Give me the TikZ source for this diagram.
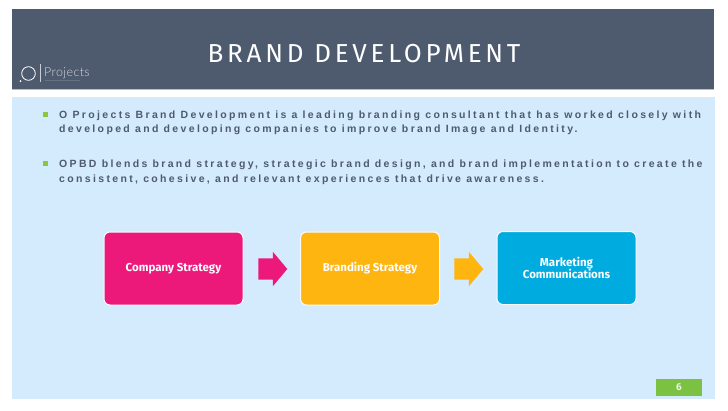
\documentclass[tikz,border=0pt]{standalone}
\usepackage{fontspec}
\setmainfont{Liberation Sans}
\newfontfamily\titlefont[LetterSpace=14.5]{Fira Sans}
\newfontfamily\bodyfont[LetterSpace=22.3]{Liberation Sans}
\newfontfamily\boxfont{Fira Sans}
\newfontfamily\logofont[LetterSpace=3]{Lato Light}
\usetikzlibrary{shapes.arrows}
\definecolor{header}{HTML}{4E5B6F}
\definecolor{headline}{HTML}{B9BEC6}
\definecolor{panel}{HTML}{D4EAFD}
\definecolor{bodytext}{HTML}{4E5B6F}
\definecolor{bulletgreen}{HTML}{8CC63F}
\definecolor{pagegreen}{HTML}{7CC242}
\definecolor{pink}{HTML}{EC197B}
\definecolor{amber}{HTML}{FFB50F}
\definecolor{sky}{HTML}{00ABDF}
\tikzset{
  x=1pt,y=-1pt,
  flowbox/.style={draw=white!85!panel,line width=1pt,rounded corners=6pt,minimum width=139pt,minimum height=73pt,inner sep=0pt,text=white!92!panel,align=center,font=\boxfont\bfseries\fontsize{11.5}{12}\selectfont},
  blockarrow/.style={single arrow,single arrow head extend=6.5pt,single arrow tip angle=100,minimum height=29pt,inner sep=0pt},
  bodyline/.style={anchor=base west,inner sep=0pt,text=bodytext,font=\bodyfont\bfseries\fontsize{10.5}{12}\selectfont},
  bulletmark/.style={fill=bulletgreen,minimum size=5pt,inner sep=0pt}
}
\begin{document}
\begin{tikzpicture}
\useasboundingbox (0,0) rectangle (728,410);
\fill[white] (0,0) rectangle (728,410);
\fill[panel] (12,97) rectangle (715,399);
\fill[header] (12,9) rectangle (714,89);
\fill[headline] (12,89) rectangle (714,90);
\node[anchor=base,inner sep=0pt,text=white,font=\titlefont\fontsize{26}{30}\selectfont] (title) at (364,62) {BRAND DEVELOPMENT};
% logo
\draw[white,line width=0.8pt] (28.5,73.5) circle (6.8);
\fill[white] (20.5,81) circle (1);
\draw[white!70!header,line width=0.5pt] (40,64) -- (40,82);
\node[anchor=base west,inner sep=0pt,text=white!75!header,font=\logofont\fontsize{12.5}{12}\selectfont] (logo) at (44,76) {Projects};
\draw[white!14!header,line width=0.8pt] (45,80.5) -- (80,80.5);
% text
\node[bulletmark] (b1) at (45,114) {};
\node[bodyline] (t1a) at (59,118) {O Projects Brand Development is a leading branding consultant that has worked closely with};
\node[bodyline] (t1b) at (59,132) {developed and developing companies to improve brand Image and Identity.};
\node[bulletmark] (b2) at (45,163) {};
\node[bodyline] (t2a) at (59,167) {OPBD blends brand strategy, strategic brand design, and brand implementation to create the};
\node[bodyline] (t2b) at (59,182) {consistent, cohesive, and relevant experiences that drive awareness.};
% boxes
\node[flowbox,fill=pink] (company) at (173.5,268.5) {Company Strategy};
\node[flowbox,fill=amber] (branding) at (370,268.5) {Branding Strategy};
\node[flowbox,fill=sky] (marketing) at (566.5,268) {Marketing\\Communications};
\node[blockarrow,fill=pink] (arrow1) at (268.3,269) {\rule{0pt}{21pt}};
\node[blockarrow,fill=amber] (arrow2) at (464.3,269) {\rule{0pt}{21pt}};
% page number
\node[fill=pagegreen,minimum width=46pt,minimum height=17pt,inner sep=0pt,text=white!85!pagegreen,font=\boxfont\bfseries\fontsize{10}{12}\selectfont] (page) at (679,387.5) {6};
\end{tikzpicture}
\end{document}
